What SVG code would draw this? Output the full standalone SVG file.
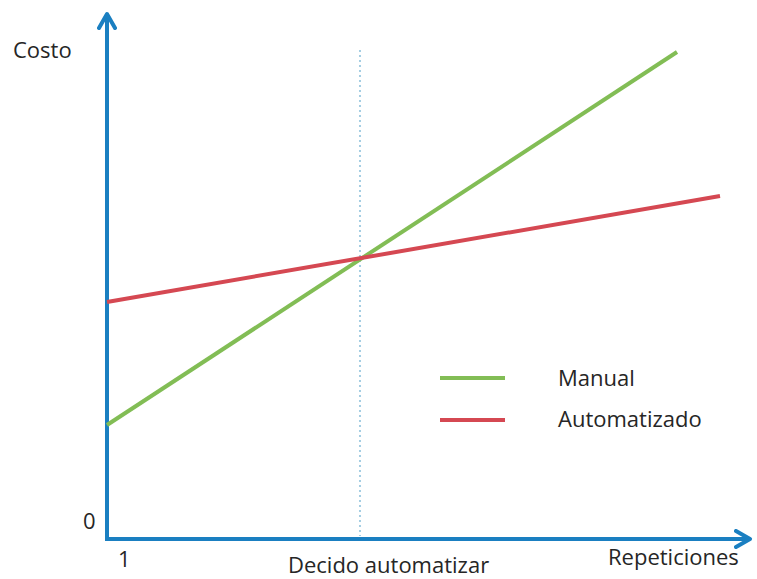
<svg xmlns="http://www.w3.org/2000/svg" width="757" height="579" viewBox="0 0 757 579">
<style>
.t{font-family:"Open Sans","Liberation Sans",sans-serif;fill:#262626;font-size:22px}
.ax{stroke:#1a7fc1;stroke-width:4;fill:none}
</style>
<defs>
<marker id="ah" viewBox="0 0 10 10" refX="8" refY="5" markerWidth="5" markerHeight="5" orient="auto" markerUnits="strokeWidth">
<path d="M1,1 L8,5 L1,9" fill="none" stroke="#1a7fc1" stroke-width="2" stroke-linecap="round" stroke-linejoin="round"/>
</marker>
</defs>
<rect width="757" height="579" fill="#fff"/>
<g id="connectors">
<line x1="360" y1="50" x2="360" y2="536" stroke="#6aaed0" stroke-width="1.2" stroke-dasharray="2,3"/>
<path class="ax" d="M107,539 L107,14" marker-end="url(#ah)"/>
<path class="ax" d="M105,539 L750,539" marker-end="url(#ah)"/>
<line x1="107" y1="425" x2="677" y2="52" stroke="#82bd55" stroke-width="4"/>
<line x1="107" y1="302" x2="720" y2="196" stroke="#d54852" stroke-width="4"/>
</g>
<g id="legend">
<line x1="440" y1="378" x2="505" y2="378" stroke="#82bd55" stroke-width="4"/>
<line x1="440" y1="420" x2="505" y2="420" stroke="#d54852" stroke-width="4"/>
<text class="t" x="558" y="386">Manual</text>
<text class="t" x="558" y="427">Automatizado</text>
</g>
<g id="labels">
<text class="t" x="13" y="58">Costo</text>
<text class="t" x="83" y="529">0</text>
<text class="t" x="118" y="567">1</text>
<text class="t" x="288" y="573">Decido automatizar</text>
<text class="t" x="608" y="565">Repeticiones</text>
</g>
</svg>
